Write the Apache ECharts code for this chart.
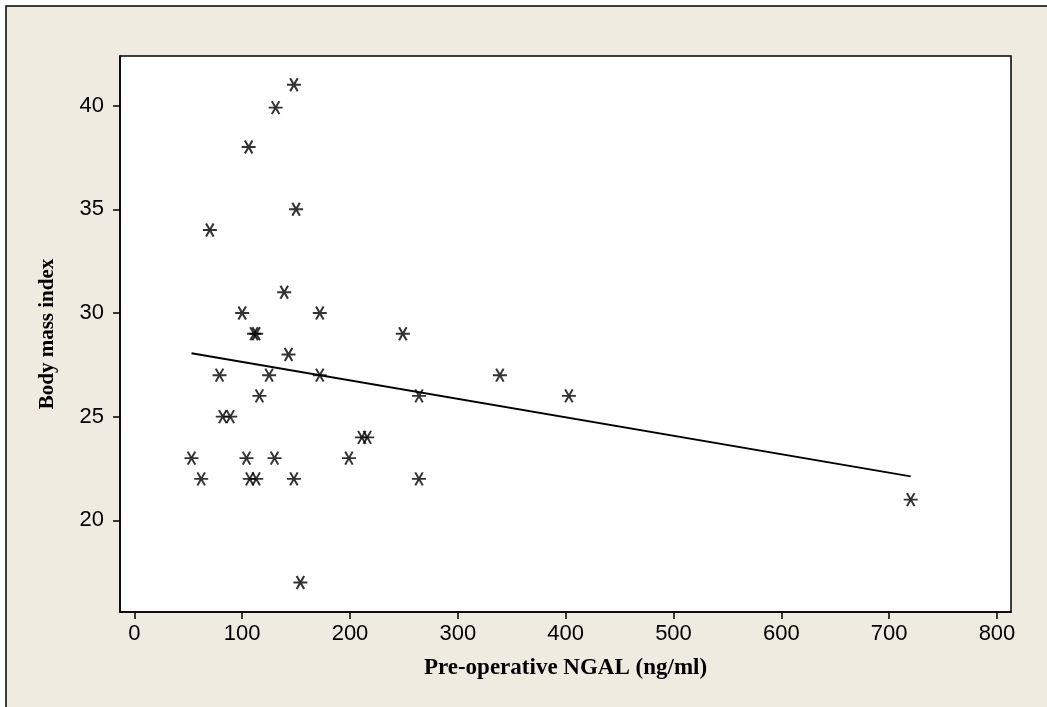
<!DOCTYPE html>
<html>
<head>
<meta charset="utf-8">
<script src="https://cdn.jsdelivr.net/npm/echarts@6/dist/echarts.min.js"></script>
<style>
html,body{margin:0;padding:0;background:#ffffff;}
#chart{width:1047px;height:707px;}
</style>
</head>
<body>
<div id="chart"></div>
<script>
// Data
const ngal = [148, 131, 106, 150, 70, 139, 100, 172, 111, 113, 249, 143, 79, 125, 172, 339, 116, 264, 403, 82, 89, 211, 216, 53, 104, 130, 199, 62, 107, 113, 148, 264, 720, 154];
const bmi  = [41, 39.9, 38, 35, 34, 31, 30, 30, 29, 29, 29, 28, 27, 27, 27, 27, 26, 26, 26, 25, 25, 24, 24, 23, 23, 23, 23, 22, 22, 22, 22, 22, 21, 17];
// Fitted regression line end points
const fitX = [53, 720];
const fitY = [28.06, 22.12];
const xTicks = [0, 100, 200, 300, 400, 500, 600, 700, 800];
const yTicks = [20, 25, 30, 35, 40];
const xTitle = 'Pre-operative NGAL (ng/ml)';
const yTitle = 'Body mass index';

const points = ngal.map((x, i) => [x, bmi[i]]);
const fitLine = fitX.map((x, i) => [x, fitY[i]]);

const chart = echarts.init(document.getElementById('chart'), null, {renderer: 'canvas'});
const labelFont = {color: '#000', fontSize: 22, fontFamily: 'Liberation Sans'};
const titleFont = {color: '#000', fontSize: 23, fontWeight: 'bold', fontFamily: 'Liberation Serif'};

chart.setOption({
  backgroundColor: '#ffffff',
  animation: false,
  graphic: [{
    type: 'rect',
    z: -10,
    shape: {x: 6, y: 6, width: 1100, height: 800},
    style: {fill: '#EFEBE1', stroke: '#000', lineWidth: 1.5}
  }],
  grid: {
    left: 120, top: 56, right: 36, bottom: 95,
    show: true, backgroundColor: '#ffffff', borderColor: '#000', borderWidth: 1.5
  },
  xAxis: {
    type: 'value', min: -13.3, max: 813,
    axisLine: {show: true, onZero: false, lineStyle: {color: '#000', width: 1.5}},
    axisTick: {show: true, inside: false, length: 7, customValues: xTicks, lineStyle: {color: '#000', width: 1.5}},
    axisLabel: Object.assign({margin: 11, customValues: xTicks}, labelFont),
    splitLine: {show: false},
    name: xTitle, nameLocation: 'middle', nameGap: 45,
    nameTextStyle: titleFont
  },
  yAxis: {
    type: 'value', min: 15.58, max: 42.39,
    axisLine: {show: true, onZero: false, lineStyle: {color: '#000', width: 1.5}},
    axisTick: {show: true, inside: false, length: 7, customValues: yTicks, lineStyle: {color: '#000', width: 1.5}},
    axisLabel: Object.assign({margin: 16, customValues: yTicks}, labelFont),
    splitLine: {show: false},
    name: yTitle, nameLocation: 'middle', nameGap: 62, nameRotate: 90,
    nameTextStyle: Object.assign({}, titleFont, {fontSize: 21})
  },
  series: [{
    type: 'scatter',
    data: points,
    symbol: 'path://M0,6L13,6M3,0L10,12M10,0L3,12',
    symbolSize: [14, 13],
    itemStyle: {color: 'none', borderColor: '#000', borderWidth: 2},
    z: 3
  }, {
    type: 'line',
    data: fitLine,
    showSymbol: false,
    symbol: 'none',
    lineStyle: {color: '#000', width: 2},
    z: 2
  }]
});
</script>
</body>
</html>
